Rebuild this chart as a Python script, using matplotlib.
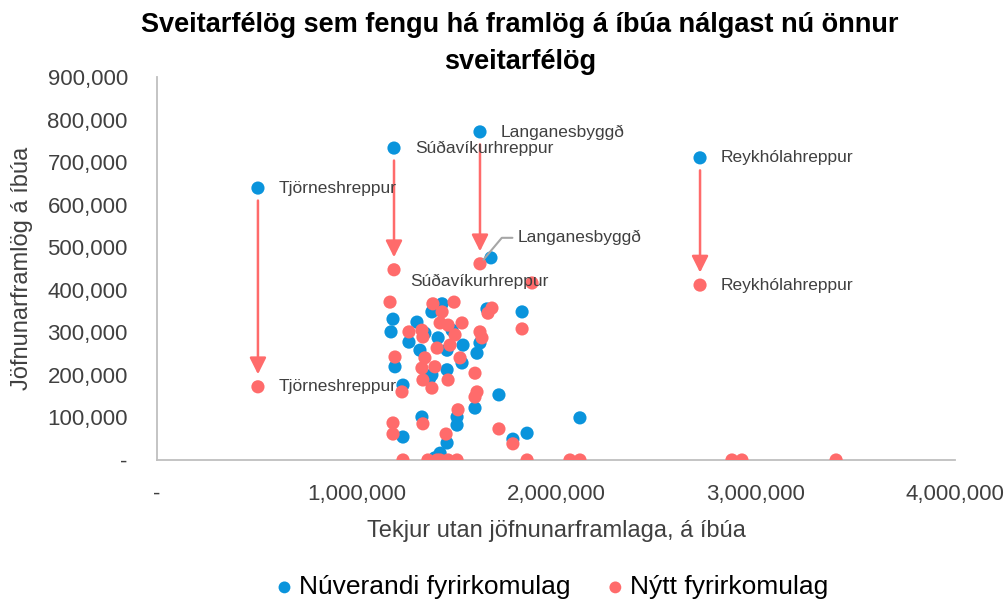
import matplotlib
matplotlib.use("Agg")
from matplotlib import pyplot as plt
from matplotlib.ticker import MultipleLocator, FuncFormatter

plt.rcParams['font.family'] = ['Liberation Sans', 'DejaVu Sans']

title = 'Sveitarfélög sem fengu há framlög á íbúa nálgast nú önnur\nsveitarfélög'
x_label = 'Tekjur utan jöfnunarframlaga, á íbúa'
y_label = 'Jöfnunarframlög á íbúa'
series_names = ['Núverandi fyrirkomulag', 'Nýtt fyrirkomulag']

# named municipalities (first four points of each series)
names = ['Tjörneshreppur', 'Súðavíkurhreppur', 'Langanesbyggð', 'Reykhólahreppur']

# current system (thousands of kr.)
blue_x = [506, 1188, 1619, 2722, 1674, 1183, 1173, 1429, 1378, 1303, 1263, 1318, 1409,
          1534, 1454, 1619, 1604, 1654, 1830, 1193, 1233, 1378, 1454, 1529, 1714, 1594,
          1328, 1504, 1233, 1454, 1784, 1855, 2120, 1419, 1393, 1479, 1343, 1368, 1504]
blue_y = [639, 733, 771, 710, 475, 331, 301, 367, 348, 324, 277, 258, 287,
          270, 258, 275, 251, 355, 348, 219, 176, 200, 212, 228, 153, 122,
          101, 82, 54, 40, 49, 63, 99, 16, 5, 305, 298, 193, 101]

# new system (thousands of kr.)
red_x = [506, 1188, 1619, 2722, 1880, 1168, 1383, 1489, 1429, 1659, 1679, 1830, 1263,
         1328, 1419, 1459, 1529, 1333, 1494, 1619, 1629, 1469, 1404, 1193, 1343, 1519,
         1328, 1393, 1594, 1333, 1459, 1378, 1228, 1604, 1594, 1509, 1183, 1333, 1714,
         1183, 1449, 1784, 1233, 1358, 1404, 1419, 1459, 1504, 1855, 2070, 2120, 2882,
         2932, 3404]
red_y = [172, 447, 461, 411, 416, 371, 367, 371, 348, 345, 357, 308, 301,
         305, 322, 317, 322, 289, 294, 301, 287, 270, 263, 242, 240, 240,
         216, 219, 204, 188, 188, 169, 160, 160, 148, 118, 87, 85, 73,
         61, 61, 38, 0, 0, 0, 0, 0, 0, 0, 0, 0, 0,
         0, 0]

blue_x = [v * 1000 for v in blue_x]
blue_y = [v * 1000 for v in blue_y]
red_x = [v * 1000 for v in red_x]
red_y = [v * 1000 for v in red_y]

BLUE = '#0A94DC'
RED = '#FF6B6B'
GREY = '#BFBFBF'
TXT = '#404040'

fig = plt.figure(figsize=(10.08, 6.02), dpi=100)
ax = fig.add_axes([157/1008, 1-460/602, (955-157)/1008, (460-77)/602])

ax.scatter(blue_x, blue_y, s=90, color=BLUE, edgecolors='none', label=series_names[0], zorder=3)
ax.scatter(red_x, red_y, s=90, color=RED, edgecolors='none', label=series_names[1], zorder=4)

# arrows from old to new position for the named ones
for i in range(len(names)):
    ax.annotate('', xy=(red_x[i], red_y[i]), xytext=(blue_x[i], blue_y[i]),
                arrowprops=dict(arrowstyle='-|>,head_length=0.5,head_width=0.25',
                                color=RED, lw=1.8, mutation_scale=20,
                                shrinkA=9, shrinkB=9), zorder=2)

# labels
for i in range(len(names)):
    ax.annotate(names[i], (blue_x[i], blue_y[i]), xytext=(21, 0), textcoords='offset pixels',
                va='center', fontsize=12.5, color=TXT, zorder=5)
for i in [0, 3]:
    ax.annotate(names[i], (red_x[i], red_y[i]), xytext=(21, 0), textcoords='offset pixels',
                va='center', fontsize=12.5, color=TXT, zorder=5)
ax.annotate(names[1], (red_x[1], red_y[1]), xytext=(16, -12), textcoords='offset pixels',
            va='center', fontsize=12.5, color=TXT, zorder=5)
ax.annotate(names[2], (red_x[2], red_y[2]), xytext=(38, 26), textcoords='offset pixels',
            va='center', fontsize=12.5, color=TXT, zorder=5,
            arrowprops=dict(arrowstyle='-', color='#A6A6A6', lw=1.5, shrinkA=2, shrinkB=4,
                            relpos=(0, 0.5), connectionstyle='angle,angleA=180,angleB=50,rad=0'))

ax.set_xlim(0, 4000000)
ax.set_ylim(0, 900000)
ax.xaxis.set_major_locator(MultipleLocator(1000000))
ax.yaxis.set_major_locator(MultipleLocator(100000))
fmt = FuncFormatter(lambda v, p: '-' if v == 0 else f'{v:,.0f}')
ax.xaxis.set_major_formatter(fmt)
ax.yaxis.set_major_formatter(fmt)
ax.tick_params(length=0, labelsize=16, labelcolor=TXT)
ax.tick_params(axis='x', pad=17)
ax.tick_params(axis='y', pad=21)
for sp in ['top', 'right']:
    ax.spines[sp].set_visible(False)
for sp in ['left', 'bottom']:
    ax.spines[sp].set_color(GREY)
    ax.spines[sp].set_linewidth(1.3)

ax.set_xlabel(x_label, fontsize=17, color=TXT, labelpad=11)
ax.set_ylabel(y_label, fontsize=17, color=TXT, labelpad=10)

fig.text(520/1008, 1-12/602, title, ha='center', va='top', fontsize=19.5,
         fontweight='bold', color='black', linespacing=1.55)

fig.legend(loc='lower center', bbox_to_anchor=(553/1008, -0.035), ncol=2, frameon=False,
           fontsize=19, handlelength=0.5, handletextpad=0.3, columnspacing=1.45,
           markerscale=0.9)

fig.savefig('out.png', dpi=100)
